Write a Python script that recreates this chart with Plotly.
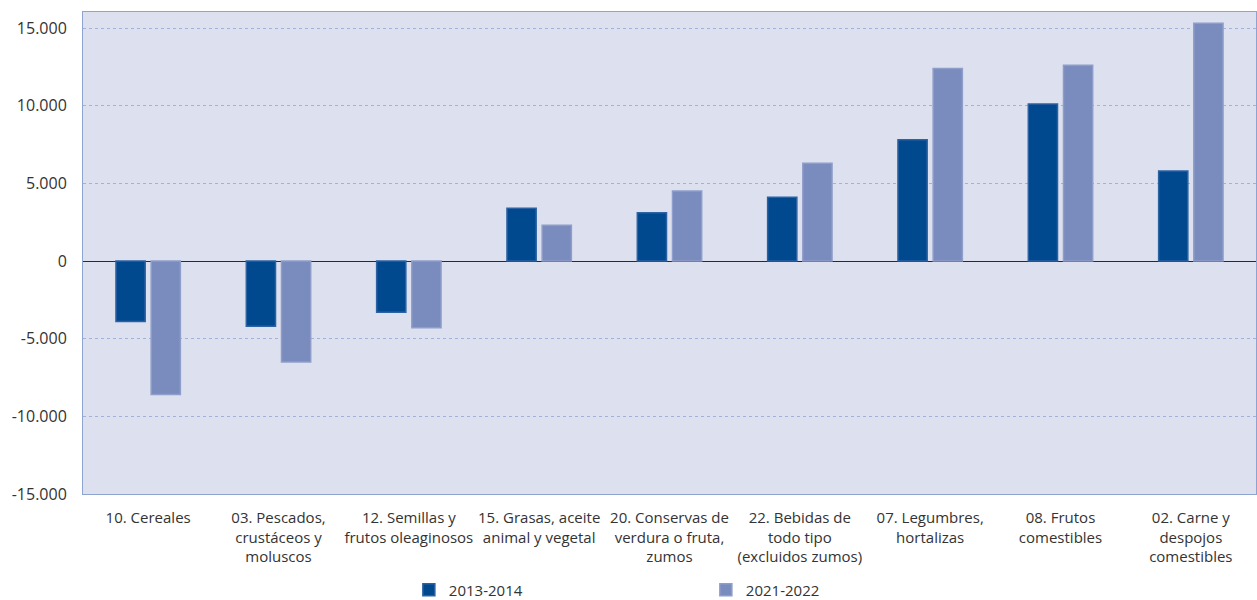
import plotly.graph_objects as go

categories = [
    "10. Cereales",
    "03. Pescados,<br>crustáceos y<br>moluscos",
    "12. Semillas y<br>frutos oleaginosos",
    "15. Grasas, aceite<br>animal y vegetal",
    "20. Conservas de<br>verdura o fruta,<br>zumos",
    "22. Bebidas de<br>todo tipo<br>(excluidos zumos)",
    "07. Legumbres,<br>hortalizas",
    "08. Frutos<br>comestibles",
    "02. Carne y<br>despojos<br>comestibles",
]
v_2013_2014 = [-3900, -4200, -3300, 3400, 3100, 4100, 7800, 10100, 5800]
v_2021_2022 = [-8600, -6500, -4300, 2300, 4500, 6300, 12400, 12600, 15300]
tick_vals = [-15000, -10000, -5000, 0, 5000, 10000, 15000]
tick_text = ["-15.000", "-10.000", "-5.000", "0", "5.000", "10.000", "15.000"]

FONT = "Open Sans, Noto Sans, sans-serif"

fig = go.Figure()
fig.add_trace(go.Bar(
    x=categories, y=v_2013_2014, name="2013-2014",
    marker=dict(color="#00498f", line=dict(color="#2c62a3", width=1.5)),
))
fig.add_trace(go.Bar(
    x=categories, y=v_2021_2022, name="2021-2022",
    marker=dict(color="#7a8bbd", line=dict(color="#8e9dc9", width=1.5)),
))

fig.update_layout(
    width=1257, height=600,
    margin=dict(l=83, r=1, t=12, b=106, autoexpand=False),
    paper_bgcolor="white",
    plot_bgcolor="#dde0ee",
    barmode="group",
    bargap=0.46,
    bargroupgap=0.17,
    font=dict(family=FONT, size=15, color="#333333"),
    showlegend=True,
    legend=dict(
        orientation="h", x=0.531, xanchor="center", y=-0.165, yanchor="top",
        font=dict(family=FONT, size=15, color="#333333"),
        entrywidth=252, entrywidthmode="pixels",
        itemclick=False,
    ),
    xaxis=dict(
        showgrid=False, ticks="", showline=True, linecolor="#8fa3d0", linewidth=1,
        mirror=True, ticklabelstandoff=10,
        tickfont=dict(family=FONT, size=15, color="#333333"),
    ),
    yaxis=dict(
        range=[-15000, 16030],
        tickvals=tick_vals, ticktext=tick_text,
        showgrid=True, gridcolor="#a3b0dc", griddash="3px,3px", gridwidth=1,
        zeroline=True, zerolinecolor="#2a2a2a", zerolinewidth=1.2,
        showline=True, linecolor="#8fa3d0", linewidth=1, mirror=True,
        ticks="", ticklabelstandoff=12,
        tickfont=dict(family=FONT, size=16, color="#333333"),
    ),
)

fig.write_html(
    "out.html",
    config={"displayModeBar": False},
    post_script="document.body.style.margin='0';",
)
